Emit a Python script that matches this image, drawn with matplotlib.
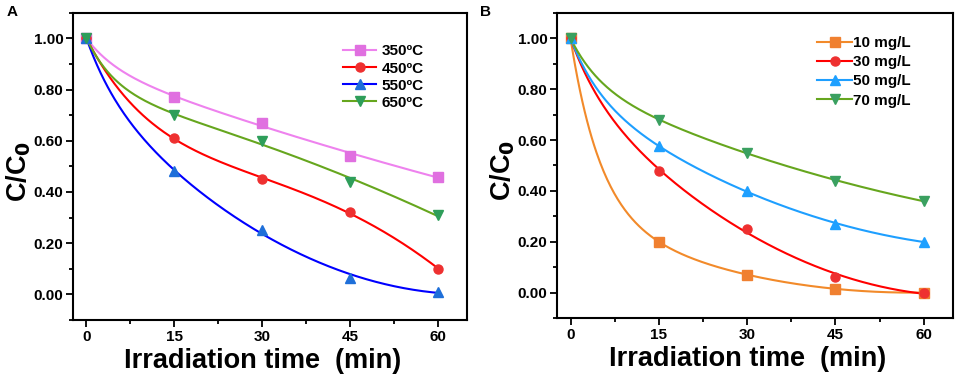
import numpy as np
import matplotlib
matplotlib.use('Agg')
import matplotlib.pyplot as plt
from matplotlib.ticker import MultipleLocator

plt.rcParams['font.family'] = ['Liberation Sans', 'DejaVu Sans']
plt.rcParams['font.weight'] = 'bold'
plt.rcParams['mathtext.default'] = 'bf'

time = [0, 15, 30, 45, 60]

# panel A: calcination temperature
temp_labels = ['350ºC', '450ºC', '550ºC', '650ºC']
c350 = [1.00, 0.77, 0.67, 0.54, 0.46]
c450 = [1.00, 0.61, 0.45, 0.32, 0.10]
c550 = [1.00, 0.48, 0.25, 0.065, 0.01]
c650 = [1.00, 0.70, 0.60, 0.44, 0.31]

# panel B: initial concentration
conc_labels = ['10 mg/L', '30 mg/L', '50 mg/L', '70 mg/L']
c10 = [1.00, 0.20, 0.07, 0.015, 0.00]
c30 = [1.00, 0.48, 0.25, 0.06, 0.00]
c50 = [1.00, 0.575, 0.40, 0.27, 0.20]
c70 = [1.00, 0.68, 0.55, 0.44, 0.36]

xtick_labels = ['0', '15', '30', '45', '60']
ytick_vals = [0, 0.2, 0.4, 0.6, 0.8, 1.0]
ytick_labels = ['0.00', '0.20', '0.40', '0.60', '0.80', '1.00']


def smooth_fit(x, y, xn):
    # least squares fit a*exp(-k t) + b + c t + d t^2, k picked on a grid
    x = np.asarray(x, float)
    y = np.asarray(y, float)
    w = np.array([5.0, 1, 1, 1, 1])
    best = None
    for k in np.linspace(0.005, 0.2, 200):
        A = np.column_stack([np.exp(-k * x), np.ones_like(x), x, x**2 * 0.3])
        coef, *_ = np.linalg.lstsq(A * w[:, None], y * w, rcond=None)
        res = np.sum((A @ coef - y)**2) + 1e-4 * np.sum(coef**2)
        if best is None or res < best[0]:
            best = (res, k, coef)
    _, k, coef = best
    An = np.column_stack([np.exp(-k * xn), np.ones_like(xn), xn, xn**2 * 0.3])
    return An @ coef


fig = plt.figure(figsize=(9.57, 3.79), dpi=100)
axA = fig.add_axes([0.0763, 0.156, 0.412, 0.810])
axB = fig.add_axes([0.582, 0.161, 0.414, 0.805])

xs = np.linspace(0, 60, 300)

def draw(ax, series, labels, lcolors, mcolors, markers):
    for vals, lab, lc, mc, mk in zip(series, labels, lcolors, mcolors, markers):
        ax.plot(xs, smooth_fit(time, vals, xs), color=lc, lw=1.5, zorder=2)
        ax.plot(time, vals, ls='none', marker=mk, ms=6.5, color=mc, mec=mc, zorder=3)
        ax.plot([], [], color=lc, lw=1.5, marker=mk, ms=6.5, mfc=mc, mec=mc, label=lab)
    ax.set_xlim(-2.3, 65)
    ax.set_ylim(-0.1, 1.1)
    ax.set_xticks(time)
    ax.set_xticklabels(xtick_labels, fontsize=11, fontweight='bold')
    ax.set_yticks(ytick_vals)
    ax.set_yticklabels(ytick_labels, fontsize=11, fontweight='bold')
    ax.xaxis.set_minor_locator(MultipleLocator(7.5))
    ax.yaxis.set_minor_locator(MultipleLocator(0.1))
    ax.tick_params(which='both', direction='out', top=False, right=False,
                   width=1.3, pad=2)
    ax.tick_params(which='major', length=5)
    ax.tick_params(which='minor', length=3)
    for s in ax.spines.values():
        s.set_linewidth(1.5)
    ax.set_xlabel('Irradiation time  (min)', fontsize=19.5, fontweight='bold')
    ax.xaxis.set_label_coords(0.482, -0.092)
    ax.xaxis.label.set_va('top')
    ax.set_ylabel(r'C/C$_\mathbf{0}$', fontsize=19.5, fontweight='bold')
    ax.yaxis.set_label_coords(-0.137, 0.485)
    ax.yaxis.label.set_va('center')

draw(axA, [c350, c450, c550, c650], temp_labels,
     ['#ee82ee', '#ff0000', '#0000ff', '#66a61e'],
     ['#e070e0', '#ee3030', '#1e6fd9', '#2e9e5a'],
     ['s', 'o', '^', 'v'])
draw(axB, [c10, c30, c50, c70], conc_labels,
     ['#f28a2a', '#ff0000', '#1e9fff', '#66a61e'],
     ['#f08030', '#ee3030', '#1ea0ff', '#3aa060'],
     ['s', 'o', '^', 'v'])
axA.legend(loc='upper right', bbox_to_anchor=(0.917, 0.932), frameon=False,
           prop={'size': 11, 'weight': 'bold'}, handlelength=2.2,
           handletextpad=0.35, labelspacing=0.2, borderpad=0.2)
axB.legend(loc='upper right', bbox_to_anchor=(0.92, 0.958), frameon=False,
           prop={'size': 11, 'weight': 'bold'}, handlelength=2.3,
           handletextpad=0.05, labelspacing=0.33, borderpad=0.2)

fig.text(0.007, 0.958, 'A', fontsize=11, fontweight='bold')
fig.text(0.502, 0.958, 'B', fontsize=11, fontweight='bold')

fig.savefig('out.png', dpi=100)
